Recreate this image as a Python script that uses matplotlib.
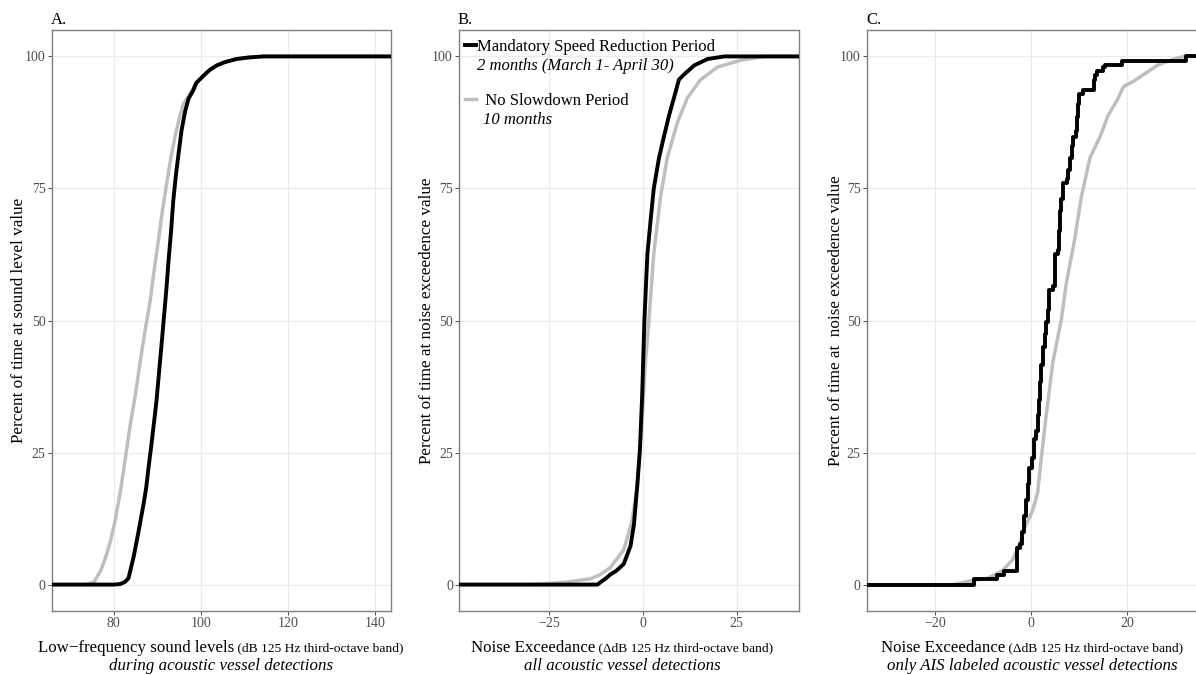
import numpy as np
import matplotlib
matplotlib.use('Agg')
import matplotlib.pyplot as plt
from matplotlib.lines import Line2D

plt.rcParams['font.family'] = ['Liberation Serif', 'DejaVu Serif']
plt.rcParams['axes.unicode_minus'] = True

# ---------------- data ----------------
# Panel A: low-frequency sound levels (dB)
a_slow_x = [73.6, 75.5, 77.0, 78.0, 79.2, 80.3, 81.5, 82.6, 83.8, 85.0, 86.1, 87.2, 88.4,
            89.3, 90.3, 91.2, 92.2, 93.1, 94.1, 95.0, 96.0, 97.6, 99.0, 100.6, 102.0,
            103.7, 105.5, 108.2, 111.0, 114.4]
a_slow_y = [0.0, 0.5, 2.6, 4.8, 8.0, 12.0, 17.4, 23.5, 30.2, 36.0, 42.3, 48.0, 53.8,
            59.5, 65.3, 70.8, 76.0, 80.6, 84.8, 88.0, 90.9, 93.0, 95.0, 96.3, 97.4,
            98.3, 98.9, 99.5, 99.8, 100.0]
a_msr_x = [80.0, 81.5, 82.6, 83.4, 84.6, 85.7, 86.9, 87.5, 88.0, 88.6, 89.2, 89.8, 90.3,
           90.9, 91.5, 92.1, 92.6, 93.2, 93.7, 94.3, 94.9, 95.6, 96.4, 97.2, 98.3, 99.0,
           100.6, 102.0, 103.7, 105.5, 108.2, 111.0, 114.4]
a_msr_y = [0.0, 0.1, 0.5, 1.2, 5.3, 10.0, 15.4, 18.5, 22.1, 26.0, 30.2, 34.5, 39.0,
           44.5, 50.1, 55.8, 61.2, 67.0, 72.7, 77.5, 81.5, 86.0, 89.5, 92.0, 93.6, 95.0,
           96.3, 97.4, 98.3, 98.9, 99.5, 99.8, 100.0]

# Panel B: noise exceedance, all acoustic vessel detections
b_slow_x = [-30.0, -25.0, -20.0, -17.0, -14.0, -11.6, -8.7, -5.1, -2.9, -1.5, -0.4, 0.7,
            1.6, 2.9, 4.7, 6.5, 9.2, 11.9, 15.4, 19.9, 26.2, 32.4]
b_slow_y = [0.0, 0.2, 0.5, 0.8, 1.1, 1.8, 3.2, 6.6, 12.0, 18.7, 28.9, 42.3,
            50.0, 62.6, 73.4, 80.8, 87.5, 92.2, 95.6, 98.0, 99.3, 100.0]
b_msr_x = [-12.1, -11.0, -9.8, -8.7, -7.1, -5.1, -3.3, -2.4, -1.5, -0.8, -0.2, 0.4,
           1.2, 2.1, 2.9, 4.3, 5.6, 7.0, 8.3, 9.6, 11.0, 13.7, 17.2, 21.7]
b_msr_y = [0.0, 0.6, 1.2, 1.9, 2.6, 3.9, 7.3, 11.3, 18.7, 25.5, 35.6, 50.0,
           62.6, 69.3, 75.0, 80.8, 84.8, 88.9, 92.2, 95.6, 96.6, 98.3, 99.5, 100.0]

# Panel C: noise exceedance, only AIS labeled detections
c_slow_x = [-16.2, -12.0, -9.0, -6.0, -3.9, -2.5, -1.05, 0.35, 1.4, 2.1, 3.2, 4.6, 6.3,
            7.4, 9.1, 10.5, 12.3, 14.4, 16.1, 17.9, 19.3, 21.4, 23.5, 26.3, 29.1, 31.9]
c_slow_y = [0.0, 0.8, 1.2, 2.6, 4.6, 7.3, 11.3, 14.0, 17.4, 23.5, 32.2, 42.3, 50.0,
            57.2, 65.3, 73.4, 80.8, 84.8, 88.9, 91.6, 94.3, 95.3, 96.6, 98.3, 99.3, 100.0]
# step ECDF: jump location and level after the jump
c_msr_x = [-11.9, -7.0, -5.6, -3.0, -2.3, -1.8, -1.4, -1.0, -0.6, -0.3, 0.3, 0.7, 1.0,
           1.4, 1.7, 1.9, 2.2, 2.5, 2.9, 3.2, 3.5, 3.8, 4.7, 5.05, 5.6, 5.8, 6.0, 6.3,
           6.7, 7.5, 7.8, 8.1, 8.5, 8.8, 9.3, 9.6, 9.8, 10.0, 10.9, 13.1, 13.4, 13.7,
           15.1, 15.4, 18.9, 32.3]
c_msr_y = [1.0, 1.9, 2.6, 6.9, 7.6, 10.0, 13.0, 16.0, 19.0, 22.0, 24.0, 27.5, 29.0,
           32.2, 35.0, 38.3, 41.5, 45.0, 47.5, 49.8, 52.0, 55.8, 56.5, 62.6, 63.3, 67.0,
           70.7, 73.0, 76.0, 76.7, 78.5, 80.8, 83.0, 84.8, 85.8, 88.5, 90.9, 92.9, 93.6,
           95.6, 96.5, 97.3, 98.0, 98.4, 99.2, 100.0]

y_ticks = [0, 25, 50, 75, 100]
a_xticks = [80, 100, 120, 140]
b_xticks = [-25, 0, 25]
c_xticks = [-20, 0, 20]

legend_labels = ['Mandatory Speed Reduction Period', '  No Slowdown Period']
legend_sub = ['2 months (March 1- April 30)', '10 months']

BLACK = '#000000'
GRAY = '#BEBEBE'
LW_BLACK = 2.8
LW_GRAY = 2.5

# ---------------- layout ----------------
W, H = 1196, 675
fig = plt.figure(figsize=(W / 100, H / 100), dpi=100)


def add_axes_px(left, top, right, bottom):
    return fig.add_axes([left / W, 1 - bottom / H, (right - left) / W, (bottom - top) / H])


def style(ax, xlim, xticks):
    ax.set_xlim(*xlim)
    ax.set_ylim(-5, 105)
    ax.set_xticks(xticks)
    ax.set_yticks(y_ticks)
    ax.set_xticklabels([f'{t:g}'.replace('-', '\u2212') for t in xticks])
    ax.set_yticklabels([f'{t:g}' for t in y_ticks])
    ax.grid(True, color='#EBEBEB', lw=0.9, zorder=0)
    ax.set_axisbelow(True)
    for s in ax.spines.values():
        s.set_color('#7F7F7F')
        s.set_linewidth(1.0)
    ax.tick_params(axis='both', length=2.6, width=0.7, color='#4D4D4D',
                   labelcolor='#4D4D4D', labelsize=10, pad=1.8)


def ecdf_line(ax, xs, ys, color, lw, z, steps=False):
    x0, x1 = ax.get_xlim()
    x = [x0] + list(xs) + [x1]
    y = [0.0] + list(ys) + [100.0]
    ax.plot(x, y, color=color, lw=lw, zorder=z, solid_joinstyle='round',
            solid_capstyle='butt', drawstyle='steps-post' if steps else 'default')


axA = add_axes_px(51.7, 30, 391, 611)
axB = add_axes_px(459, 30, 799, 611)
axC = add_axes_px(866.7, 30, 1205.7, 611)

style(axA, (65.75, 143.75), a_xticks)
style(axB, (-49.0, 41.6), b_xticks)
style(axC, (-34.2, 36.4), c_xticks)

ecdf_line(axA, a_slow_x, a_slow_y, GRAY, LW_GRAY, 3)
ecdf_line(axA, a_msr_x, a_msr_y, BLACK, LW_BLACK, 4)
ecdf_line(axB, b_slow_x, b_slow_y, GRAY, LW_GRAY, 3)
ecdf_line(axB, b_msr_x, b_msr_y, BLACK, LW_BLACK, 4)
ecdf_line(axC, c_slow_x, c_slow_y, GRAY, LW_GRAY, 3)
ecdf_line(axC, c_msr_x, c_msr_y, BLACK, LW_BLACK, 4, steps=True)

# panel tags
for ax, tag, xpx in [(axA, 'A.', 51), (axB, 'B.', 458), (axC, 'C.', 866)]:
    fig.text(xpx / W, 1 - 24 / H, tag, fontsize=12, ha='left', va='baseline')

# y labels
ylabels = [('Percent of time at sound level value', 19),
           ('Percent of time at noise exceedence value', 427),
           ('Percent of time at  noise exceedence value', 836)]
for txt, xpx in ylabels:
    fig.text(xpx / W, 1 - 320.5 / H, txt, rotation=90, fontsize=12.3,
             ha='center', va='center')

# x titles (two sizes on one baseline + italic second line)
xtitles = [(221, 'Low\u2212frequency sound levels', ' (dB 125 Hz third-octave band)',
            'during acoustic vessel detections'),
           (622, 'Noise Exceedance', ' (\u0394dB 125 Hz third-octave band)',
            'all acoustic vessel detections'),
           (1032, 'Noise Exceedance', ' (\u0394dB 125 Hz third-octave band)',
            'only AIS labeled acoustic vessel detections')]
parts = []
for cx, big, small, ital in xtitles:
    t1 = fig.text(0, 1 - 651.5 / H, big, fontsize=12.2, ha='left', va='baseline')
    t2 = fig.text(0, 1 - 651.5 / H, small, fontsize=9.7, ha='left', va='baseline')
    fig.text(cx / W, 1 - 670 / H, ital, fontsize=12.2, style='italic',
             ha='center', va='baseline')
    parts.append((cx, t1, t2))

fig.canvas.draw()
r = fig.canvas.get_renderer()
for cx, t1, t2 in parts:
    w1 = t1.get_window_extent(r).width
    w2 = t2.get_window_extent(r).width
    x0 = cx - (w1 + w2) / 2
    t1.set_x(x0 / W)
    t2.set_x((x0 + w1) / W)

# legend in panel B
handles = [Line2D([], [], color=BLACK, lw=LW_BLACK), Line2D([], [], color=GRAY, lw=LW_GRAY)]
leg = axB.legend(handles, legend_labels, loc='upper left',
                 bbox_to_anchor=(0.0176, 0.985), frameon=False, fontsize=12,
                 handlelength=0.65, handletextpad=0.1, labelspacing=2.27,
                 borderpad=0, borderaxespad=0)
axB.text((476.7 - 459) / 340, 1 - (70.5 - 30) / 581, legend_sub[0], transform=axB.transAxes,
         fontsize=12, style='italic', ha='left', va='baseline')
axB.text((483 - 459) / 340, 1 - (124 - 30) / 581, legend_sub[1], transform=axB.transAxes,
         fontsize=12, style='italic', ha='left', va='baseline')

fig.savefig('out.png', dpi=100)
